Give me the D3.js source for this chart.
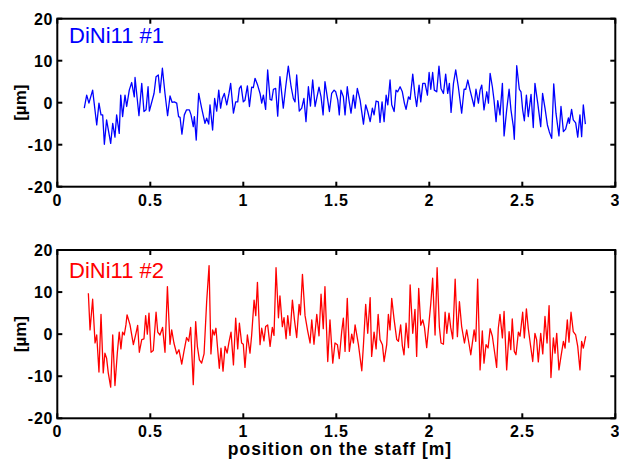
<!DOCTYPE html>
<html>
<head>
<meta charset="utf-8">
<script src="https://cdn.jsdelivr.net/npm/d3@7"></script>
<style>
  body { margin: 0; background: #fff; }
  svg { display: block; }
  text { font-family: "Liberation Sans", Arial, Helvetica, sans-serif; }
</style>
</head>
<body>
<div id="chart"></div>
<script>
// ===========================================================
// DATA (position on the staff [m], deviation [um])
// ===========================================================
var topPos = [0.145,0.158,0.170,0.190,0.212,0.224,0.235,0.244,0.253,0.265,0.287,0.298,0.310,0.319,0.333,0.341,0.351,0.364,0.373,0.387,
  0.400,0.414,0.418,0.439,0.454,0.466,0.477,0.488,0.495,0.520,0.531,0.543,0.552,0.565,0.579,0.593,0.606,0.617,0.629,0.642,
  0.652,0.660,0.670,0.683,0.695,0.710,0.719,0.731,0.737,0.747,0.760,0.776,0.794,0.803,0.814,0.821,0.835,0.846,0.857,0.868,
  0.878,0.887,0.898,0.911,0.923,0.932,0.947,0.959,0.970,0.979,0.988,1.000,1.009,1.022,1.033,1.045,1.054,1.063,1.077,1.090,
  1.099,1.108,1.120,1.131,1.144,1.153,1.162,1.174,1.185,1.197,1.215,1.228,1.242,1.257,1.269,1.278,1.287,1.301,1.314,1.326,
  1.337,1.350,1.361,1.373,1.386,1.407,1.418,1.429,1.439,1.454,1.463,1.475,1.488,1.497,1.508,1.516,1.525,1.538,1.547,1.559,
  1.568,1.579,1.592,1.601,1.613,1.628,1.646,1.658,1.669,1.682,1.694,1.703,1.714,1.726,1.735,1.746,1.757,1.768,1.777,1.789,
  1.798,1.811,1.821,1.830,1.843,1.855,1.866,1.875,1.888,1.897,1.911,1.923,1.932,1.945,1.954,1.965,1.977,1.990,1.999,2.008,
  2.018,2.027,2.040,2.052,2.063,2.076,2.088,2.099,2.108,2.117,2.130,2.142,2.156,2.174,2.187,2.196,2.207,2.219,2.241,2.251,
  2.264,2.273,2.282,2.294,2.309,2.318,2.327,2.339,2.348,2.359,2.368,2.380,2.393,2.402,2.416,2.429,2.439,2.452,2.457,2.470,
  2.484,2.493,2.502,2.511,2.522,2.532,2.547,2.559,2.568,2.583,2.599,2.609,2.622,2.635,2.645,2.658,2.669,2.681,2.697,2.708,
  2.721,2.733,2.748,2.753,2.765,2.774,2.787,2.798,2.810,2.819,2.828,2.839];
var topDev = [-1.3,1.8,-0.1,3.0,-5.3,-0.1,-2.9,-2.9,-9.9,-4.1,-9.7,-4.9,-8.2,-2.9,-7.3,1.8,-3.3,1.8,-0.9,3.0,
  4.8,1.4,6.0,-3.1,4.6,-2.1,-1.7,3.8,-2.0,2.2,6.2,6.6,2.4,8.2,2.2,-3.1,1.6,0.1,0.2,-0.1,
  -3.3,-3.5,-7.5,-2.9,-1.7,-1.7,-2.9,-5.7,-3.3,-8.9,2.2,-1.3,-4.9,-3.7,-5.1,-0.5,-6.5,1.0,-2.0,3.0,
  -1.3,1.0,2.2,-0.5,2.2,4.6,-2.5,0.2,0.2,3.4,4.0,0.2,0.6,4.0,-0.9,3.7,3.6,5.8,4.2,2.2,
  -0.1,1.8,-1.6,7.8,0.8,0.6,3.2,3.4,-3.2,6.2,-1.3,3.8,8.7,3.8,1.0,0.2,6.6,-2.0,-1.3,1.0,
  -4.5,3.8,-0.8,5.4,-0.9,3.7,1.4,-2.9,5.0,0.6,-2.1,2.2,3.0,2.6,0.6,-2.9,3.0,1.4,-2.9,3.8,
  0.6,-2.5,1.8,-1.3,3.4,0.6,-5.1,-0.5,-2.1,-4.5,-1.3,-2.9,0.4,0.2,-4.7,0.2,-4.5,1.8,-0.5,5.4,
  -0.5,-2.1,3.0,2.6,3.8,2.6,-0.1,-1.6,1.4,0.8,6.8,1.8,-0.9,4.2,0.2,4.6,4.6,1.8,7.2,3.2,
  7.2,3.0,2.6,8.7,3.4,2.2,6.8,2.2,4.6,-2.3,4.6,7.8,3.8,-2.5,3.2,3.2,5.4,3.0,-0.9,3.2,
  -0.1,3.0,4.2,-1.7,2.6,-0.1,7.0,3.8,0.6,-4.5,0.5,-2.9,4.6,-7.9,-1.7,3.2,-1.7,-5.7,-8.7,8.8,
  3.2,2.6,-1.7,-4.3,1.8,-3.3,2.0,-5.9,4.6,-0.1,-5.7,2.2,-1.3,-5.3,-6.9,-8.5,4.5,-2.5,-7.9,-0.9,
  -6.9,-6.3,-3.6,-4.9,-1.6,-4.1,-4.8,-8.2,-2.9,-8.1,-0.5,-5.1];

var botPos = [0.167,0.176,0.190,0.203,0.212,0.224,0.235,0.247,0.256,0.265,0.274,0.287,0.298,0.310,0.323,0.333,0.342,0.351,0.360,0.369,
  0.375,0.391,0.409,0.423,0.432,0.441,0.454,0.466,0.475,0.484,0.493,0.504,0.516,0.531,0.540,0.552,0.566,0.579,0.592,0.606,
  0.615,0.627,0.642,0.654,0.669,0.681,0.695,0.706,0.717,0.731,0.744,0.753,0.764,0.776,0.789,0.803,0.816,0.826,0.835,0.844,
  0.853,0.860,0.871,0.880,0.891,0.902,0.913,0.923,0.934,0.947,0.959,0.970,0.979,0.991,1.000,1.009,1.022,1.036,1.045,1.058,
  1.067,1.076,1.090,1.099,1.111,1.120,1.131,1.144,1.156,1.165,1.176,1.189,1.197,1.210,1.219,1.230,1.239,1.251,1.264,1.275,
  1.287,1.300,1.307,1.318,1.332,1.346,1.359,1.368,1.380,1.395,1.407,1.418,1.430,1.439,1.454,1.466,1.481,1.493,1.506,1.516,
  1.529,1.538,1.547,1.559,1.570,1.583,1.592,1.601,1.619,1.637,1.646,1.658,1.669,1.682,1.690,1.703,1.714,1.725,1.735,1.748,
  1.757,1.771,1.780,1.789,1.798,1.811,1.825,1.834,1.846,1.855,1.864,1.875,1.888,1.897,1.911,1.923,1.932,1.943,1.954,1.965,
  1.974,1.986,1.999,2.008,2.018,2.031,2.042,2.054,2.063,2.076,2.085,2.094,2.106,2.115,2.126,2.139,2.151,2.162,2.174,2.189,
  2.201,2.214,2.223,2.241,2.250,2.260,2.273,2.285,2.294,2.305,2.316,2.327,2.339,2.353,2.362,2.371,2.380,2.393,2.402,2.416,
  2.429,2.438,2.446,2.457,2.466,2.479,2.488,2.502,2.511,2.522,2.532,2.545,2.556,2.568,2.577,2.586,2.599,2.610,2.622,2.633,
  2.644,2.654,2.667,2.676,2.685,2.697,2.708,2.721,2.730,2.742,2.751,2.762,2.774,2.787,2.798,2.810,2.819,2.828,2.841];
var botDev = [9.7,1.0,8.3,-2.1,-0.2,-9.0,4.7,-9.2,-4.5,-5.7,-9.2,-12.6,-0.2,-12.2,-4.3,0.5,-3.5,0.5,-0.2,2.2,
  4.6,2.2,-2.5,0.2,2.1,-4.3,-1.3,-1.1,4.4,0.0,5.0,-4.3,-3.9,5.2,0.5,-0.2,1.6,-4.3,11.3,-2.4,
  1.0,-2.1,-4.7,-3.7,-7.1,-4.1,-0.8,-1.7,1.6,-12.0,3.0,-2.9,-6.1,-6.9,-4.7,7.7,16.3,-4.7,1.0,-0.2,
  1.4,-2.4,-8.1,-3.3,-8.8,-2.9,-4.5,-1.9,0.5,-7.3,3.8,-3.5,2.6,-2.1,-2.4,-7.9,-0.2,-4.5,-0.2,8.1,
  4.4,12.3,-2.5,1.4,-1.6,1.8,2.2,-2.9,1.6,-0.3,15.8,3.9,9.1,1.8,3.9,-1.1,4.4,-0.3,8.1,3.4,
  -0.8,7.1,4.6,14.2,4.4,0.8,-2.1,3.4,-2.4,4.7,-0.4,9.5,1.3,11.3,-6.5,3.4,-6.9,-2.1,-2.5,-5.8,
  0.6,3.8,-4.1,8.5,-4.1,0.0,-2.1,2.2,-2.5,-8.7,-2.5,7.1,0.2,8.7,-5.3,0.5,-3.5,4.7,-1.3,-2.5,
  -6.5,-2.5,4.7,1.0,8.5,3.4,-1.3,-1.7,2.2,-2.7,-4.9,2.6,-3.2,11.7,0.2,5.9,-5.3,10.9,2.1,3.4,
  1.6,-3.2,3.0,7.3,13.3,-0.2,15.8,1.8,-2.1,-2.4,5.2,0.2,5.0,1.6,-1.1,13.1,-0.6,7.7,1.8,-2.1,
  1.0,-2.4,-4.9,1.0,-1.7,13.1,-8.5,0.8,-6.9,-2.5,-3.3,1.3,-0.5,-4.9,-7.9,1.4,4.7,-0.9,5.4,-8.5,
  0.6,-3.7,3.6,-4.1,-4.9,0.5,-0.5,5.2,-0.9,6.0,1.4,-2.9,-6.5,0.2,-1.3,-6.6,0.2,-4.7,4.2,-2.1,
  6.8,-10.3,-0.9,-4.5,0.2,-8.5,-5.3,-1.7,-3.3,3.4,-1.9,5.2,0.6,-0.2,-2.9,-8.5,-1.7,-3.3,-0.5];

var xTicks = [0, 0.5, 1, 1.5, 2, 2.5, 3];
var yTicks = [-20, -10, 0, 10, 20];

// ===========================================================
// SVG WRAPPER
// ===========================================================
var svgWidth = 619;
var svgHeight = 459;

var svg = d3.select('#chart')
    .append('svg')
    .attr('width', svgWidth)
    .attr('height', svgHeight);

var x = d3.scaleLinear().domain([0, 3]).range([57.3, 615.3]);

var panels = [
    { top: 18.7, bottom: 186.7, pos: topPos, dev: topDev, color: '#0000ff', name: 'DiNi11 #1', nameY: 42.5 },
    { top: 250, bottom: 418.3, pos: botPos, dev: botDev, color: '#ff0000', name: 'DiNi11 #2', nameY: 278 }
];

var tickLen = 5;

panels.forEach(function(p) {
    var y = d3.scaleLinear().domain([-20, 20]).range([p.bottom, p.top]);
    var g = svg.append('g');

    // data line
    var line = d3.line()
        .x(function(d) { return x(d[0]); })
        .y(function(d) { return y(d[1]); });
    g.append('path')
        .datum(d3.zip(p.pos, p.dev))
        .attr('fill', 'none')
        .attr('stroke', p.color)
        .attr('stroke-width', 1.3)
        .attr('stroke-linejoin', 'round')
        .attr('d', line);

    // ticks on all four sides, pointing inward
    var ticks = g.append('g').attr('stroke', '#000').attr('stroke-width', 2);
    xTicks.forEach(function(t) {
        ticks.append('line').attr('x1', x(t)).attr('x2', x(t)).attr('y1', p.bottom).attr('y2', p.bottom - tickLen);
        ticks.append('line').attr('x1', x(t)).attr('x2', x(t)).attr('y1', p.top).attr('y2', p.top + tickLen);
    });
    yTicks.forEach(function(t) {
        ticks.append('line').attr('x1', x(0)).attr('x2', x(0) + tickLen).attr('y1', y(t)).attr('y2', y(t));
        ticks.append('line').attr('x1', x(3)).attr('x2', x(3) - tickLen).attr('y1', y(t)).attr('y2', y(t));
    });

    // box
    g.append('rect')
        .attr('x', x(0)).attr('y', p.top)
        .attr('width', x(3) - x(0)).attr('height', p.bottom - p.top)
        .attr('fill', 'none').attr('stroke', '#000').attr('stroke-width', 2);

    // tick labels
    g.append('g').selectAll('text')
        .data(xTicks)
        .enter()
        .append('text')
        .attr('x', function(d) { return x(d); })
        .attr('y', p.bottom + 19)
        .attr('text-anchor', 'middle')
        .style('font-size', '16px')
        .style('font-weight', 'bold')
        .style('letter-spacing', '0.8px')
        .text(function(d) { return d; });

    g.append('g').selectAll('text')
        .data(yTicks)
        .enter()
        .append('text')
        .attr('x', x(0) - 4)
        .attr('y', function(d) { return y(d) + 6; })
        .attr('text-anchor', 'end')
        .style('font-size', '16px')
        .style('font-weight', 'bold')
        .style('letter-spacing', '0.8px')
        .text(function(d) { return d; });

    // y label
    g.append('text')
        .attr('transform', 'translate(26,' + y(0) + ') rotate(-90)')
        .attr('text-anchor', 'middle')
        .style('font-size', '17px')
        .style('font-weight', 'bold')
        .text('[µm]');

    // panel name
    g.append('text')
        .attr('x', 69)
        .attr('y', p.nameY)
        .attr('fill', p.color)
        .style('font-size', '22px')
        .text(p.name);
});

svg.append('text')
    .attr('x', 340)
    .attr('y', 455)
    .attr('text-anchor', 'middle')
    .style('font-size', '17.5px')
    .style('font-weight', 'bold')
    .style('letter-spacing', '1px')
    .text('position on the staff [m]');
</script>
</body>
</html>
